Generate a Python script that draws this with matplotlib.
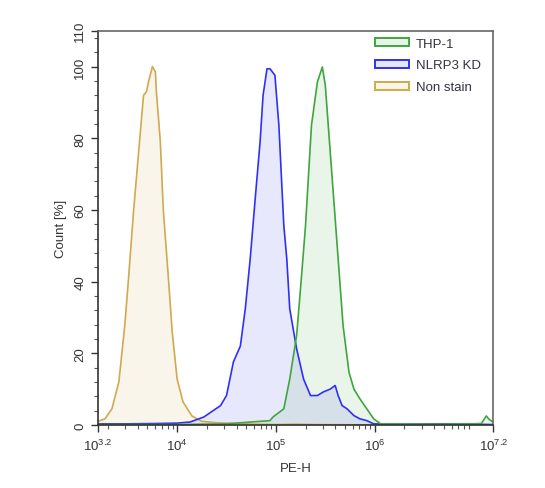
import numpy as np
import matplotlib.pyplot as plt
from matplotlib.patches import Patch
from matplotlib.ticker import FixedLocator, LogLocator, NullFormatter

plt.rcParams['font.family'] = ['Liberation Sans', 'DejaVu Sans']
plt.rcParams['mathtext.fontset'] = 'custom'
plt.rcParams['mathtext.rm'] = 'Liberation Sans'
plt.rcParams['mathtext.it'] = 'Liberation Sans'

# histogram traces (x as log10 of PE-H, y as % of max)
non_logx = [3.20, 3.22, 3.27, 3.34, 3.41, 3.47, 3.51, 3.56, 3.61, 3.66, 3.69, 3.71, 3.75,
            3.78, 3.79, 3.83, 3.86, 3.91, 3.95, 4.00, 4.06, 4.15, 4.25, 4.40, 4.60, 4.80,
            5.00, 5.20, 5.40, 6.00, 7.20]
non_y = [1.0, 1.2, 1.7, 4.5, 12.0, 27.7, 41.6, 60.0, 76.0, 92.0, 93.0, 95.7, 100.0,
         98.5, 93.0, 79.0, 60.0, 41.6, 26.0, 12.8, 6.4, 2.5, 1.0, 0.6, 0.4, 0.2,
         0.1, 0.2, 0.1, 0.0, 0.0]

kd_logx = [3.20, 3.50, 3.80, 4.00, 4.13, 4.27, 4.44, 4.50, 4.57, 4.64, 4.69, 4.74, 4.79,
           4.84, 4.87, 4.91, 4.94, 4.99, 5.03, 5.06, 5.08, 5.11, 5.14, 5.21, 5.28, 5.35,
           5.42, 5.48, 5.55, 5.60, 5.63, 5.67, 5.72, 5.79, 5.85, 5.92, 5.99, 6.30, 6.70,
           7.00, 7.20]
kd_y = [0.3, 0.3, 0.4, 0.5, 0.8, 2.2, 5.4, 8.2, 17.6, 22.0, 32.4, 46.4, 63.0,
        79.0, 92.0, 99.4, 99.4, 97.6, 83.6, 66.8, 55.7, 46.4, 32.4, 21.2, 12.8, 8.2,
        8.2, 9.2, 10.0, 11.0, 8.2, 5.4, 4.5, 2.6, 1.7, 1.2, 0.3, 0.2, 0.3,
        0.2, 0.1]

thp_logx = [3.20, 4.00, 4.50, 4.74, 4.94, 4.97, 5.08, 5.14, 5.21, 5.26, 5.30, 5.33, 5.36,
            5.42, 5.47, 5.50, 5.53, 5.58, 5.63, 5.68, 5.74, 5.79, 5.85, 5.92, 5.99, 6.06,
            6.50, 7.00, 7.08, 7.13, 7.16, 7.20]
thp_y = [0.1, 0.1, 0.3, 0.8, 1.2, 2.2, 4.5, 12.8, 25.0, 41.7, 55.7, 69.6, 83.6,
         95.7, 99.9, 94.8, 83.6, 65.0, 46.4, 27.7, 14.7, 10.0, 7.3, 4.5, 1.7, 0.3,
         0.2, 0.3, 0.4, 2.5, 1.5, 0.8]

labels = ['THP-1', 'NLRP3 KD', 'Non stain']
line_colors = ['#3fa53f', '#3030f5', '#d2a850']
fill_colors = ['#e9f4e9', '#e6e6fb', '#f8f4e6']

fig = plt.figure(figsize=(5.45, 4.89), dpi=100)
ax = fig.add_axes([0.180, 0.129, 0.725, 0.806])

series = [(thp_logx, thp_y), (kd_logx, kd_y), (non_logx, non_y)]
for (lx, yv), lc in zip(series[::-1], line_colors[::-1]):
    x = 10 ** np.array(lx)
    ax.fill_between(x, 0, yv, color=lc, alpha=0.11, lw=0)
    ax.plot(x, yv, color=lc, lw=1.2)

ax.set_xscale('log')
ax.set_xlim(10 ** 3.2, 10 ** 7.2)
ax.set_ylim(0, 110)

ax.xaxis.set_major_locator(FixedLocator([10 ** 3.2, 1e4, 1e5, 1e6, 10 ** 7.2]))
ax.set_xticklabels([r'$10^{3.2}$', r'$10^{4}$', r'$10^{5}$', r'$10^{6}$', r'$10^{7.2}$'])
ax.xaxis.set_minor_locator(LogLocator(base=10, subs=np.arange(2, 10), numticks=20))
ax.xaxis.set_minor_formatter(NullFormatter())

ax.set_yticks([0, 20, 40, 60, 80, 100, 110])
ax.set_yticks(np.arange(4, 110, 4), minor=True)
for lab in ax.get_yticklabels():
    lab.set_rotation(90)
    lab.set_va('center')

ax.tick_params(axis='both', which='major', direction='out', length=5, width=1,
               color='#333333', labelsize=9.5, labelcolor='#333333')
ax.tick_params(axis='both', which='minor', direction='out', length=3, width=0.8,
               color='#555555')
ax.tick_params(axis='x', pad=4)

for side in ['left', 'bottom']:
    ax.spines[side].set_color('#333333')
    ax.spines[side].set_linewidth(1.2)
for side in ['top', 'right']:
    ax.spines[side].set_color('#666666')
    ax.spines[side].set_linewidth(1.2)

ax.set_xlabel('PE-H', fontsize=9.5, color='#333333', labelpad=7)
ax.set_ylabel('Count [%]', fontsize=9.5, color='#333333', labelpad=5)

handles = [Patch(facecolor=fc, edgecolor=lc, lw=1.4) for fc, lc in zip(fill_colors, line_colors)]
leg = ax.legend(handles, labels, loc='upper right', bbox_to_anchor=(0.998, 1.013), frameon=False,
                fontsize=9.5, handlelength=2.6, handleheight=0.55, handletextpad=0.5,
                labelspacing=0.75)
for t in leg.get_texts():
    t.set_color('#333344')

fig.savefig('out.png', dpi=100)
